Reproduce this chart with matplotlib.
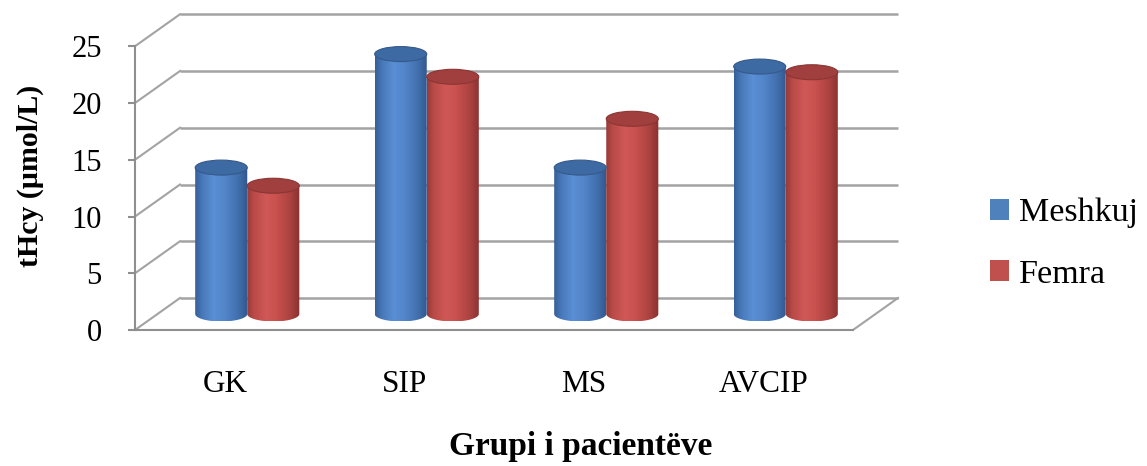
import numpy as np
import matplotlib
matplotlib.use("Agg")
import matplotlib.pyplot as plt
from matplotlib.patches import Polygon, Ellipse, Patch
from matplotlib.colors import to_rgb

# ---------------- data ----------------
categories = ["GK", "SIP", "MS", "AVCIP"]
series_names = ["Meshkuj", "Femra"]
meshkuj = [12.9, 22.9, 12.9, 21.8]
femra = [11.3, 20.9, 17.2, 21.3]
y_ticks = [0, 5, 10, 15, 20, 25]
y_label = "tHcy (µmol/L)"
x_label = "Grupi i pacientëve"

# ---------------- style / geometry ----------------
W, H = 1147, 466
plt.rcParams['font.family'] = ['Liberation Serif', 'DejaVu Serif']
fig = plt.figure(figsize=(W / 100, H / 100), dpi=100)

# axes box in pixels (front plane)
ax_l, ax_r, ax_b, ax_t = 135, 900, 330, 8
px_per_cat = 179.5
px_per_unit = 11.35
ax = fig.add_axes([ax_l / W, (H - ax_b) / H, (ax_r - ax_l) / W, (ax_b - ax_t) / H])
xlim = (-0.5, -0.5 + (ax_r - ax_l) / px_per_cat)
ylim = (0, (ax_b - ax_t) / px_per_unit)
DX = 45 / px_per_cat
DY = 32 / px_per_unit
ax.patch.set_alpha(0)

grid_c = "#a3a3a3"
x0f, x1f = -0.5, len(categories) - 0.5
ymax = y_ticks[-1]
# back wall gridlines and side-wall diagonals
for v in y_ticks:
    ax.plot([x0f + DX, x1f + DX], [v + DY, v + DY], color=grid_c, lw=1.8,
            solid_capstyle='butt', zorder=1)
    ax.plot([x0f, x0f + DX], [v, v + DY], color=grid_c, lw=1.5, zorder=1)
# floor right edge
ax.plot([x1f, x1f + DX], [0, DY], color=grid_c, lw=1.5, zorder=1)

# spines
for s in ["top", "right"]:
    ax.spines[s].set_visible(False)
ax.spines['left'].set_bounds(0, ymax)
ax.spines['bottom'].set_bounds(x0f, x1f)
for s in ["left", "bottom"]:
    ax.spines[s].set_color("#8f8f8f")
    ax.spines[s].set_linewidth(1.5)
    ax.spines[s].set_zorder(2)
ax.set_yticks(y_ticks)
ax.set_yticklabels([str(v) for v in y_ticks], fontsize=22)
ax.tick_params(axis='y', length=5, width=1.5, color="#8f8f8f", pad=19)
ax.set_xticks(range(len(categories)))
ax.set_xticklabels(categories, fontsize=22.5)
ax.tick_params(axis='x', length=0, pad=29)

# ---------------- cylinders ----------------
def grad_colors(stops):
    pos = np.array([s[0] for s in stops])
    cols = np.array([to_rgb(s[1]) for s in stops])
    t = np.linspace(0, 1, 200)
    out = np.stack([np.interp(t, pos, cols[:, k]) for k in range(3)], axis=-1)
    return out[None, :, :]

blue_grad = grad_colors([(0, "#355f98"), (0.12, "#4676b6"), (0.35, "#5a8fd5"),
                         (0.55, "#5386cb"), (0.8, "#4371b0"), (1.0, "#30578c")])
red_grad = grad_colors([(0, "#973a38"), (0.12, "#b84a47"), (0.35, "#d05856"),
                        (0.55, "#c9514e"), (0.8, "#ad4441"), (1.0, "#893130")])
top_cols = ["#3e6aa3", "#a03f3d"]
top_edge = ["#35598a", "#8a3634"]
grads = [blue_grad, red_grad]

bar_w = 0.29
ell_h = 15 / px_per_unit
base = DY / 2
series = [meshkuj, femra]
offsets = [-bar_w / 2, bar_w / 2]

for si, vals in enumerate(series):
    for ci, v in enumerate(vals):
        xc = ci + DX / 2 + offsets[si]
        xa, xb = xc - bar_w / 2, xc + bar_w / 2
        top = base + v
        th = np.linspace(np.pi, 2 * np.pi, 60)
        bottom_arc = np.column_stack([xc + bar_w / 2 * np.cos(th),
                                      base + ell_h / 2 * np.sin(th)])
        pts = np.vstack([[xa, top], bottom_arc, [xb, top]])
        body = Polygon(pts, closed=True, facecolor='none', edgecolor='none')
        ax.add_patch(body)
        im = ax.imshow(grads[si], extent=[xa, xb, base - ell_h / 2, top],
                       aspect='auto', interpolation='bicubic', zorder=3)
        im.set_clip_path(body)
        cap = Ellipse((xc, top), bar_w, ell_h, facecolor=top_cols[si],
                      edgecolor=top_edge[si], lw=0.8, zorder=4)
        ax.add_patch(cap)

ax.set_xlim(*xlim)
ax.set_ylim(*ylim)

# ---------------- labels ----------------
fig.text(30 / W, 1 - 176 / H, y_label, rotation=90, ha='center', va='center',
         fontsize=21.5, fontweight='bold')
fig.text(581 / W, 1 - 447 / H, x_label, ha='center', va='center',
         fontsize=24, fontweight='bold')

handles = [Patch(facecolor="#4f81bd", edgecolor='none'),
           Patch(facecolor="#c0504d", edgecolor='none')]
fig.legend(handles, series_names, loc='upper left',
           bbox_to_anchor=(990 / W, 1 - 198 / H), frameon=False,
           fontsize=24.5, handlelength=0.55, handleheight=0.55,
           handletextpad=0.3, labelspacing=0.9, borderpad=0, borderaxespad=0)

fig.savefig("out.png", dpi=100)
